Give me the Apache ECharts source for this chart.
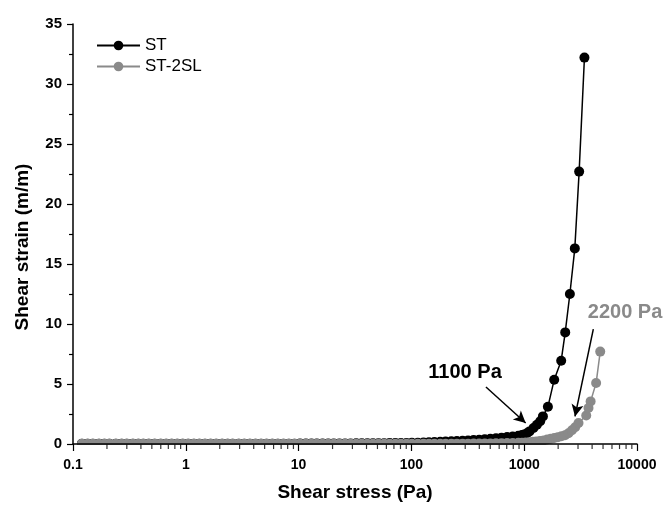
<!DOCTYPE html>
<html>
<head>
<meta charset="utf-8">
<script src="https://cdn.jsdelivr.net/npm/echarts@6/dist/echarts.min.js"></script>
<style>
html,body{margin:0;padding:0;background:#fff;}
#chart{width:665px;height:507px;}
</style>
</head>
<body>
<div id="chart"></div>
<script>
// ST
var stressST = [0.12, 0.135, 0.15, 0.17, 0.19, 0.21, 0.24, 0.27, 0.3, 0.34, 0.38, 0.42, 0.47, 0.53, 0.6, 0.67, 0.75, 0.84, 0.94,
    1.05, 1.18, 1.32, 1.48, 1.66, 1.86, 2.1, 2.35, 2.6, 2.95, 3.3, 3.7, 4.15, 4.65, 5.2, 5.85, 6.55, 7.35, 8.2, 9.2,
    10.3, 11.6, 13, 14.5, 16.3, 18.3, 20.5, 23, 25.8, 28.9, 32.4, 36.3, 40.7, 45.6, 51.1, 57.3, 64.2, 72, 80.7, 90.4,
    101, 114, 128, 143, 160, 180, 201, 226, 253, 284, 318, 356, 399, 447, 501, 562, 630, 706, 791, 887, 955,
    1000, 1057, 1114, 1209, 1296, 1386, 1465, 1622, 1845, 2128, 2310, 2540, 2810, 3070, 3420];
var strainST = [0.03, 0.03, 0.03, 0.03, 0.03, 0.03, 0.03, 0.03, 0.03, 0.03, 0.03, 0.03, 0.03, 0.03, 0.03, 0.03, 0.03, 0.03, 0.03,
    0.03, 0.03, 0.03, 0.03, 0.03, 0.03, 0.03, 0.03, 0.03, 0.03, 0.03, 0.03, 0.03, 0.03, 0.03, 0.03, 0.03, 0.03, 0.03, 0.03,
    0.04, 0.04, 0.04, 0.04, 0.04, 0.05, 0.05, 0.05, 0.05, 0.05, 0.06, 0.06, 0.06, 0.07, 0.07, 0.07, 0.08, 0.08, 0.09, 0.09,
    0.1, 0.11, 0.13, 0.14, 0.16, 0.18, 0.2, 0.22, 0.24, 0.27, 0.3, 0.33, 0.36, 0.4, 0.44, 0.48, 0.53, 0.58, 0.63, 0.69, 0.74,
    0.8, 0.9, 1.05, 1.33, 1.6, 1.9, 2.3, 3.1, 5.36, 6.94, 9.3, 12.5, 16.3, 22.7, 32.2];

// ST-2SL
var stressSL = [0.12, 0.135, 0.15, 0.17, 0.19, 0.21, 0.24, 0.27, 0.3, 0.34, 0.38, 0.42, 0.47, 0.53, 0.6, 0.67, 0.75, 0.84, 0.94,
    1.05, 1.18, 1.32, 1.48, 1.66, 1.86, 2.1, 2.35, 2.6, 2.95, 3.3, 3.7, 4.15, 4.65, 5.2, 5.85, 6.55, 7.35, 8.2, 9.2,
    10.3, 11.6, 13, 14.5, 16.3, 18.3, 20.5, 23, 25.8, 28.9, 32.4, 36.3, 40.7, 45.6, 51.1, 57.3, 64.2, 72, 80.7, 90.4,
    101, 114, 128, 143, 160, 180, 201, 226, 253, 284, 318, 356, 399, 447, 501, 562, 630, 706, 791, 887, 955,
    1030, 1110, 1190, 1280, 1380, 1490, 1600, 1720, 1850, 1990, 2140, 2300, 2470, 2650, 2830, 3030, 3548, 3715, 3880, 4340, 4720];
var strainSL = [0.02, 0.02, 0.02, 0.02, 0.02, 0.02, 0.02, 0.02, 0.02, 0.02, 0.02, 0.02, 0.02, 0.02, 0.02, 0.02, 0.02, 0.02, 0.02,
    0.02, 0.02, 0.02, 0.02, 0.02, 0.02, 0.02, 0.02, 0.02, 0.02, 0.02, 0.02, 0.02, 0.02, 0.02, 0.02, 0.02, 0.02, 0.02, 0.02,
    0.02, 0.02, 0.02, 0.02, 0.02, 0.02, 0.02, 0.02, 0.02, 0.02, 0.02, 0.02, 0.02, 0.02, 0.02, 0.02, 0.02, 0.02, 0.02, 0.02,
    0.02, 0.02, 0.02, 0.02, 0.02, 0.02, 0.02, 0.03, 0.03, 0.03, 0.03, 0.04, 0.04, 0.05, 0.05, 0.06, 0.07, 0.08, 0.09, 0.1, 0.11,
    0.13, 0.15, 0.18, 0.21, 0.25, 0.3, 0.37, 0.44, 0.5, 0.57, 0.65, 0.73, 0.9, 1.15, 1.4, 1.75, 2.38, 3.0, 3.55, 5.08, 7.7];

// minor ticks of the log axis (2..9 in each decade)
var minorTickVals = [0.2, 0.3, 0.4, 0.5, 0.6, 0.7, 0.8, 0.9, 2, 3, 4, 5, 6, 7, 8, 9,
    20, 30, 40, 50, 60, 70, 80, 90, 200, 300, 400, 500, 600, 700, 800, 900,
    2000, 3000, 4000, 5000, 6000, 7000, 8000, 9000];

// annotations: [label x, label y], arrow from -> to
var note1100 = {text: '1100 Pa', pos: [299, 5.98], from: [458, 4.75], to: [1031, 1.75]};
var note2200 = {text: '2200 Pa', pos: [7830, 10.98], from: [4100, 9.58], to: [2820, 2.3]};

function zip(xs, ys) {
    var out = [];
    for (var i = 0; i < xs.length; i++) out.push([xs[i], ys[i]]);
    return out;
}

var grayColor = '#8a8a8a';
var myChart = echarts.init(document.getElementById('chart'));
var option = {
    animation: false,
    backgroundColor: '#fff',
    textStyle: {fontFamily: 'Liberation Sans, Arial, sans-serif'},
    grid: {left: 73, right: 28, top: 24, bottom: 63, containLabel: false, outerBoundsMode: 'none'},
    legend: {
        orient: 'vertical',
        left: 91,
        top: 32,
        itemWidth: 43,
        itemHeight: 12,
        itemGap: 4,
        textStyle: {fontSize: 17, color: '#000', fontFamily: 'Liberation Sans, Arial, sans-serif'},
        data: ['ST', 'ST-2SL']
    },
    xAxis: {
        type: 'log',
        logBase: 10,
        min: 0.1,
        max: 10000,
        z: 5,
        name: 'Shear stress (Pa)',
        nameLocation: 'middle',
        nameGap: 39,
        nameTextStyle: {fontSize: 19, fontWeight: 'bold', color: '#000'},
        axisLine: {lineStyle: {color: '#000', width: 1.5}},
        axisTick: {length: 7, lineStyle: {color: '#000', width: 1.2}},
        axisLabel: {
            fontSize: 14, fontWeight: 'bold', color: '#000', margin: 14,
            formatter: function (v) { return String(+(+v).toPrecision(6)); }
        },
        splitLine: {show: false}
    },
    yAxis: {
        type: 'value',
        min: 0,
        max: 35,
        interval: 5,
        z: 5,
        name: 'Shear strain (m/m)',
        nameLocation: 'middle',
        nameGap: 41,
        nameTextStyle: {fontSize: 19, fontWeight: 'bold', color: '#000', padding: [0, 26, 0, 0]},
        axisLine: {show: true, lineStyle: {color: '#000', width: 1.5}},
        axisTick: {show: true, length: 6, lineStyle: {color: '#000', width: 1.2}},
        minorTick: {show: true, splitNumber: 2, length: 4, lineStyle: {color: '#000', width: 1.2}},
        axisLabel: {fontSize: 15, fontWeight: 'bold', color: '#000', margin: 11},
        splitLine: {show: false}
    },
    graphic: [{
        type: 'rect',
        z: 3,
        shape: {x: 0, y: 445, width: 665, height: 62},
        style: {fill: '#fff'}
    }],
    series: [{
        name: 'ST',
        type: 'line',
        z: 2,
        data: zip(stressST, strainST),
        symbol: 'circle',
        symbolSize: 10,
        itemStyle: {color: '#000'},
        lineStyle: {color: '#000', width: 1.5},
        markLine: {
            silent: true,
            symbol: ['none', 'arrow'],
            symbolSize: [9, 12],
            label: {show: false},
            lineStyle: {color: '#000', width: 1.5, type: 'solid'},
            data: [[{coord: note1100.from}, {coord: note1100.to}]]
        },
        markPoint: {
            silent: true,
            symbol: 'circle',
            symbolSize: 0,
            label: {show: true, position: 'inside', formatter: note1100.text, fontSize: 20, fontWeight: 'bold', color: '#000'},
            data: [{coord: note1100.pos}]
        }
    }, {
        name: 'ST-2SL',
        type: 'line',
        z: 2,
        data: zip(stressSL, strainSL),
        symbol: 'circle',
        symbolSize: 10,
        itemStyle: {color: grayColor},
        lineStyle: {color: grayColor, width: 1.5},
        markLine: {
            silent: true,
            symbol: ['none', 'arrow'],
            symbolSize: [9, 12],
            label: {show: false},
            lineStyle: {color: '#000', width: 1.5, type: 'solid'},
            data: [[{coord: note2200.from}, {coord: note2200.to}]]
        },
        markPoint: {
            silent: true,
            symbol: 'circle',
            symbolSize: 0,
            label: {show: true, position: 'inside', formatter: note2200.text, fontSize: 20, fontWeight: 'bold', color: grayColor},
            data: [{coord: note2200.pos}]
        }
    }, {
        name: 'minorTicks',
        type: 'scatter',
        z: 6,
        clip: false,
        silent: true,
        symbol: 'rect',
        symbolSize: [1.2, 4.5],
        symbolOffset: [0, 2.8],
        itemStyle: {color: '#000'},
        data: minorTickVals.map(function (v) { return [v, 0]; })
    }]
};
myChart.setOption(option);
window.addEventListener('resize', function () { myChart.resize(); });
</script>
</body>
</html>
